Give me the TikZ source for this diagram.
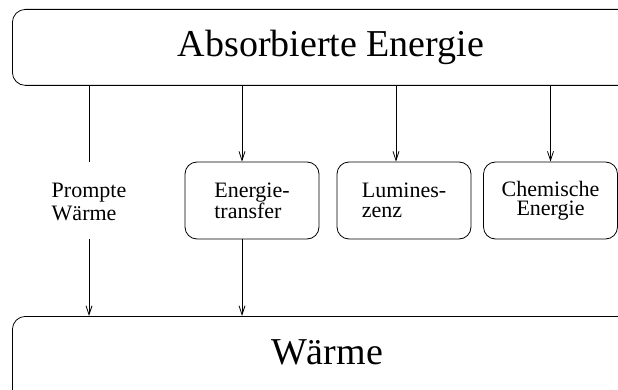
\documentclass[tikz,border=0pt]{standalone}
\usepackage{fontspec}
\setmainfont{Liberation Serif}
\usetikzlibrary{arrows.meta,positioning}

\begin{document}
\begin{tikzpicture}[x=1pt,y=-1pt]
\tikzstyle{bigbox} = [rectangle, draw=black, line width=0.8pt, rounded corners=13pt, minimum width=630pt, minimum height=76pt, inner sep=0pt, anchor=north west]
\tikzstyle{block} = [rectangle, draw=black, line width=0.8pt, rounded corners=12pt, minimum width=134pt, minimum height=77pt, inner sep=0pt, font=\fontsize{22}{18}\selectfont, align=left]
\tikzstyle{label} = [inner sep=0pt, minimum height=77pt, font=\fontsize{22}{23}\selectfont, align=left]
\tikzstyle{big} = [font=\fontsize{38}{40}\selectfont, anchor=base]
\tikzstyle{plain} = [draw, line width=0.8pt]
\tikzstyle{line} = [draw, line width=0.8pt, -{Straight Barb[length=9pt,width=6pt]}]

 \useasboundingbox (0,0) rectangle (618,390);
 \clip (0,0) rectangle (618,390);

	% top and bottom
	\node [bigbox] (absorb) at (12,9) {};
	\node [big] (absorbtext) at (331,57) {Absorbierte Energie};
	\node [bigbox, minimum height=90pt] (waerme) at (12,316) {};
	\node [big] (waermetext) at (327,364) {Wärme};

	% middle row
	\node [label] (prompt) at (89,202) {Prompte\\Wärme};
	\node [block] (transfer) at (252,200.5) {Energie-\\transfer};
	\node [block, font=\fontsize{22}{20}\selectfont] (lumi) at (404,200.5) {Lumines-\\zenz};
	\node [block, align=center, font=\fontsize{22}{19}\selectfont] (chem) at (550.5,200.5) {Chemische\\Energie};

	\path [plain] (prompt.north |- absorb.south) -- (89,162);
	\path [line] (89,239) -- (prompt.south |- waerme.north);
	\path [line] ([xshift=-10pt]transfer.north |- absorb.south) -- ([xshift=-10pt]transfer.north);
	\path [line] ([xshift=-10pt]transfer.south) -- ([xshift=-10pt]transfer.south |- waerme.north);
	\path [line] ([xshift=-8pt]lumi.north |- absorb.south) -- ([xshift=-8pt]lumi.north);
	\path [line] (chem.north |- absorb.south) -- (chem.north);
\end{tikzpicture}
\end{document}
